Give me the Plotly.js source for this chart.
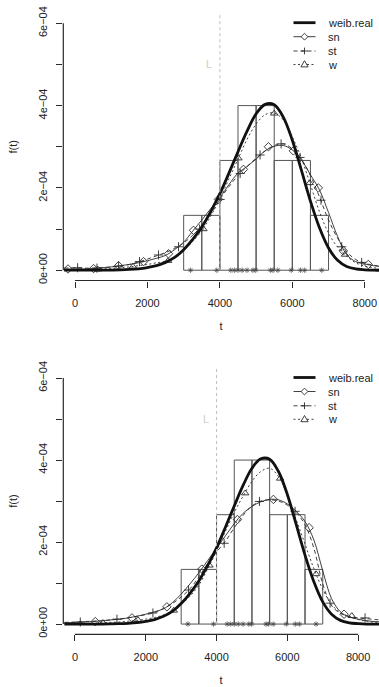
<!DOCTYPE html>
<html>
<head>
<meta charset="utf-8">
<script src="https://cdn.plot.ly/plotly-3.0.1.min.js"></script>
<style>html,body{margin:0;padding:0;background:#fff;}#chart{width:379px;height:687px;}</style>
</head>
<body>
<div id="chart"></div>
<script>
// ---------- data ----------
const legendLabels = ['weib.real', 'sn', 'st', 'w'];
const xTicks = [0, 2000, 4000, 6000, 8000];
const yTicks = [0, 1e-4, 2e-4, 3e-4, 4e-4, 5e-4, 6e-4];
const yTickText = ['0e+00', '', '2e\u221204', '', '4e\u221204', '', '6e\u221204'];

// histogram of the sample (density scale)
const binEdges = [3000, 3500, 4000, 4500, 5000, 5500, 6000, 6500, 7000];
const binDensity = [1.333e-4, 1.333e-4, 2.667e-4, 4.0e-4, 4.0e-4, 2.667e-4, 2.667e-4, 1.333e-4];

// observed times (rug, drawn as asterisks)
const sampleTimes = [3190, 3915, 4300, 4400, 4500, 4615, 4750, 4910, 4990, 5395, 5465, 5600, 5970, 6225, 6340, 6812];

const truncL = 4000;

// common grid of t for the density curves
const tGrid = [-300, 0, 250, 500, 750, 1000, 1250, 1500, 1750, 2000, 2250, 2500, 2750, 3000, 3250, 3500, 3750,
  4000, 4250, 4500, 4750, 5000, 5250, 5500, 5750, 6000, 6250, 6500, 6750, 7000, 7250, 7500, 7750, 8000, 8250, 8500, 8750];

// true Weibull density (same in both panels)
const weibReal = [0, 0, 0, 0, 0, 0.003e-4, 0.008e-4, 0.018e-4, 0.035e-4, 0.065e-4, 0.11e-4, 0.19e-4, 0.31e-4, 0.50e-4, 0.75e-4, 1.05e-4, 1.43e-4,
  1.86e-4, 2.36e-4, 2.88e-4, 3.38e-4, 3.80e-4, 4.03e-4, 4.02e-4, 3.72e-4, 3.16e-4, 2.43e-4, 1.68e-4, 1.03e-4, 0.54e-4, 0.24e-4, 0.09e-4, 0.03e-4, 0.01e-4, 0, 0, 0];

// ---- panel 1 fits ----
const sn1 = [0.02e-4, 0.03e-4, 0.03e-4, 0.04e-4, 0.06e-4, 0.08e-4, 0.11e-4, 0.14e-4, 0.18e-4, 0.23e-4, 0.29e-4, 0.36e-4, 0.50e-4, 0.68e-4, 0.95e-4, 1.22e-4, 1.50e-4,
  1.76e-4, 2.08e-4, 2.36e-4, 2.52e-4, 2.70e-4, 2.90e-4, 3.01e-4, 3.03e-4, 2.92e-4, 2.68e-4, 2.32e-4, 1.95e-4, 1.40e-4, 0.82e-4, 0.38e-4, 0.21e-4, 0.15e-4, 0.11e-4, 0.08e-4, 0.06e-4];
const st1 = [0.05e-4, 0.06e-4, 0.05e-4, 0.05e-4, 0.06e-4, 0.08e-4, 0.10e-4, 0.14e-4, 0.20e-4, 0.27e-4, 0.35e-4, 0.43e-4, 0.53e-4, 0.66e-4, 0.85e-4, 1.05e-4, 1.36e-4,
  1.72e-4, 2.03e-4, 2.30e-4, 2.52e-4, 2.72e-4, 2.90e-4, 3.03e-4, 3.07e-4, 2.95e-4, 2.70e-4, 2.30e-4, 1.78e-4, 1.22e-4, 0.78e-4, 0.45e-4, 0.26e-4, 0.17e-4, 0.12e-4, 0.09e-4, 0.07e-4];
const w1 = [0.01e-4, 0.01e-4, 0.01e-4, 0.02e-4, 0.03e-4, 0.04e-4, 0.06e-4, 0.08e-4, 0.11e-4, 0.14e-4, 0.18e-4, 0.22e-4, 0.32e-4, 0.48e-4, 0.70e-4, 0.96e-4, 1.32e-4,
  1.74e-4, 2.22e-4, 2.70e-4, 3.18e-4, 3.55e-4, 3.78e-4, 3.82e-4, 3.65e-4, 3.24e-4, 2.72e-4, 2.08e-4, 1.42e-4, 0.90e-4, 0.56e-4, 0.34e-4, 0.18e-4, 0.10e-4, 0.06e-4, 0.03e-4, 0.02e-4];
// marker points on the panel 1 curves
const sn1MarkT = [-193, 513, 1202, 1892, 2581, 3271, 3960, 4650, 5340, 6029, 6718, 7408, 8097];
const sn1MarkF = [0.03e-4, 0.04e-4, 0.11e-4, 0.21e-4, 0.40e-4, 0.97e-4, 1.72e-4, 2.45e-4, 3.00e-4, 2.90e-4, 2.00e-4, 0.47e-4, 0.14e-4];
const st1MarkT = [72, 606, 1203, 1781, 2306, 2858, 3440, 4007, 4560, 5110, 5690, 6213, 6792, 7364, 7915];
const st1MarkF = [0.06e-4, 0.05e-4, 0.10e-4, 0.21e-4, 0.37e-4, 0.57e-4, 1.00e-4, 1.72e-4, 2.35e-4, 2.80e-4, 3.07e-4, 2.74e-4, 1.70e-4, 0.57e-4, 0.19e-4];
const w1MarkT = [630, 1600, 2570, 3546, 4512, 5500, 6480, 7454];
const w1MarkF = [0.02e-4, 0.09e-4, 0.23e-4, 1.00e-4, 2.72e-4, 3.81e-4, 2.12e-4, 0.38e-4];

// ---- panel 2 fits ----
const sn2 = [0.03e-4, 0.04e-4, 0.05e-4, 0.06e-4, 0.08e-4, 0.10e-4, 0.12e-4, 0.15e-4, 0.19e-4, 0.24e-4, 0.30e-4, 0.37e-4, 0.52e-4, 0.73e-4, 0.98e-4, 1.25e-4, 1.55e-4,
  1.85e-4, 2.15e-4, 2.45e-4, 2.70e-4, 2.87e-4, 2.98e-4, 3.04e-4, 3.03e-4, 2.93e-4, 2.75e-4, 2.50e-4, 2.05e-4, 1.30e-4, 0.62e-4, 0.30e-4, 0.17e-4, 0.12e-4, 0.08e-4, 0.06e-4, 0.05e-4];
const st2 = [0.04e-4, 0.05e-4, 0.06e-4, 0.07e-4, 0.08e-4, 0.10e-4, 0.12e-4, 0.15e-4, 0.19e-4, 0.23e-4, 0.28e-4, 0.38e-4, 0.50e-4, 0.66e-4, 0.86e-4, 1.15e-4, 1.48e-4,
  1.76e-4, 2.02e-4, 2.35e-4, 2.65e-4, 2.88e-4, 3.00e-4, 3.03e-4, 3.00e-4, 2.90e-4, 2.72e-4, 2.42e-4, 1.85e-4, 0.98e-4, 0.45e-4, 0.26e-4, 0.19e-4, 0.15e-4, 0.13e-4, 0.11e-4, 0.09e-4];
const w2 = [0.01e-4, 0.01e-4, 0.01e-4, 0.02e-4, 0.03e-4, 0.04e-4, 0.05e-4, 0.07e-4, 0.09e-4, 0.12e-4, 0.16e-4, 0.22e-4, 0.32e-4, 0.48e-4, 0.68e-4, 0.95e-4, 1.35e-4,
  1.78e-4, 2.26e-4, 2.72e-4, 3.12e-4, 3.48e-4, 3.72e-4, 3.80e-4, 3.60e-4, 3.15e-4, 2.55e-4, 1.95e-4, 1.35e-4, 0.85e-4, 0.48e-4, 0.28e-4, 0.18e-4, 0.11e-4, 0.07e-4, 0.04e-4, 0.03e-4];
const sn2MarkT = [573, 1609, 2597, 3585, 4591, 5607, 6615, 7603];
const sn2MarkF = [0.06e-4, 0.15e-4, 0.42e-4, 1.34e-4, 2.55e-4, 3.04e-4, 2.35e-4, 0.24e-4];
const st2MarkT = [150, 1186, 2202, 3208, 4215, 5212, 6219, 7207, 8196];
const st2MarkF = [0.05e-4, 0.12e-4, 0.27e-4, 0.83e-4, 1.97e-4, 2.99e-4, 2.75e-4, 0.51e-4, 0.15e-4];
const w2MarkT = [790, 1780, 2790, 3800, 4808, 5796, 6812, 7820];
const w2MarkF = [0.03e-4, 0.10e-4, 0.33e-4, 1.43e-4, 3.19e-4, 3.55e-4, 1.22e-4, 0.20e-4];

// ---------- layout geometry ----------
const W = 379, H = 687;
const plotLeft = 63.3;
const panels = [
  {top: 13, bottom: 280.5, xr: [-323, 8393], xa: 'x', ya: 'y',
   sn: sn1, st: st1, w: w1, snM: [sn1MarkT, sn1MarkF], stM: [st1MarkT, st1MarkF], wM: [w1MarkT, w1MarkF]},
  {top: 367.8, bottom: 634.3, xr: [-330, 8590], xa: 'x2', ya: 'y2',
   sn: sn2, st: st2, w: w2, snM: [sn2MarkT, sn2MarkF], stM: [st2MarkT, st2MarkF], wM: [w2MarkT, w2MarkF]}
];
const yRange = [-2.5e-5, 6.25e-4];
const ink = '#2a2a2a';
const font = {family: 'Liberation Sans, Arial, sans-serif', size: 11, color: '#222'};

const styles = {
  weib: {color: '#111', width: 2.8, dash: 'solid'},
  sn: {color: ink, width: 0.9, dash: 'solid'},
  st: {color: ink, width: 0.9, dash: '4px,3px'},
  w: {color: ink, width: 0.9, dash: '2px,2.5px'}
};
const symbols = {sn: 'diamond-open', st: 'cross-thin-open', w: 'triangle-up-open'};

const traces = [];
const shapes = [];
const annotations = [];
const layout = {
  width: W, height: H, showlegend: false,
  margin: {l: 0, r: 0, t: 0, b: 0},
  paper_bgcolor: '#fff', plot_bgcolor: '#fff',
  font: font
};

const binCenters = binDensity.map((_, i) => (binEdges[i] + binEdges[i + 1]) / 2);
const binWidths = binDensity.map((_, i) => binEdges[i + 1] - binEdges[i]);

panels.forEach((p, k) => {
  const xa = p.xa, ya = p.ya;
  const xName = k === 0 ? 'xaxis' : 'xaxis2';
  const yName = k === 0 ? 'yaxis' : 'yaxis2';
  const domX = [plotLeft / W, 1];
  const domY = [1 - p.bottom / H, 1 - p.top / H];
  // map an x data value to paper fraction (for the R-style axis line)
  const toPaperX = v => domX[0] + (v - p.xr[0]) / (p.xr[1] - p.xr[0]) * (domX[1] - domX[0]);
  layout[xName] = {
    domain: domX, anchor: ya, range: p.xr,
    tickmode: 'array', tickvals: xTicks, ticktext: xTicks.map(String),
    ticks: 'outside', ticklen: 6, tickwidth: 1, tickcolor: ink,
    showline: false, showgrid: false, zeroline: false, automargin: false,
    tickfont: font, ticklabelstandoff: 6,
    title: {text: 't', font: font, standoff: 14}
  };
  layout[yName] = {
    domain: domY, anchor: xa, range: yRange,
    tickmode: 'array', tickvals: yTicks, ticktext: yTickText, tickangle: -90,
    ticks: 'outside', ticklen: 6, tickwidth: 1, tickcolor: ink,
    showline: false, showgrid: false, zeroline: false, automargin: false,
    tickfont: font, ticklabelstandoff: 5,
    title: {text: 'f(t)', font: font, standoff: 17}
  };

  // histogram
  traces.push({type: 'bar', x: binCenters, y: binDensity, width: binWidths, xaxis: xa, yaxis: ya,
    marker: {color: 'rgba(0,0,0,0)', line: {color: '#555', width: 1}}, hoverinfo: 'skip'});

  // curves
  const line = (y, st) => ({type: 'scatter', mode: 'lines', x: tGrid, y: y, xaxis: xa, yaxis: ya,
    line: {color: st.color, width: st.width, dash: st.dash, shape: 'spline', smoothing: 1}, hoverinfo: 'skip'});
  const marks = (m, sym) => ({type: 'scatter', mode: 'markers', x: m[0], y: m[1], xaxis: xa, yaxis: ya, cliponaxis: true,
    marker: {symbol: sym, size: 6.5, color: ink, line: {color: ink, width: 0.9}}, hoverinfo: 'skip'});
  traces.push(line(p.w, styles.w));
  traces.push(marks(p.wM, symbols.w));
  traces.push(line(p.st, styles.st));
  traces.push(marks(p.stM, symbols.st));
  traces.push(line(p.sn, styles.sn));
  traces.push(marks(p.snM, symbols.sn));
  traces.push(line(weibReal, styles.weib));

  // rug of observed times
  traces.push({type: 'scatter', mode: 'markers', x: sampleTimes, y: sampleTimes.map(() => 0), xaxis: xa, yaxis: ya,
    marker: {symbol: 'asterisk-open', size: 4.5, color: '#444', line: {color: '#444', width: 0.7}}, hoverinfo: 'skip'});

  // axis lines (R style: from first to last tick)
  shapes.push({type: 'line', xref: 'paper', yref: 'paper', x0: toPaperX(xTicks[0]), x1: toPaperX(xTicks[xTicks.length - 1]),
    y0: domY[0], y1: domY[0], line: {color: ink, width: 1.2}});
  shapes.push({type: 'line', xref: 'paper', yref: ya, x0: domX[0], x1: domX[0], y0: yTicks[0], y1: yTicks[yTicks.length - 1],
    line: {color: ink, width: 1.2}});
  // truncation line L
  shapes.push({type: 'line', xref: xa, yref: ya, x0: truncL, x1: truncL, y0: 0, y1: yRange[1], layer: 'above',
    line: {color: '#bdbdbd', width: 1, dash: '3px,3px'}});
  annotations.push({xref: xa, yref: ya, x: truncL - 290, y: 5.0e-4, text: 'L', showarrow: false,
    font: {family: font.family, size: 11, color: '#cfcfcf'}});

  // legend (drawn manually, R style)
  const rowOff = [9.7, 23.7, 38, 51.5];
  const keys = ['weib', 'sn', 'st', 'w'];
  keys.forEach((key, i) => {
    const py = 1 - (p.top + rowOff[i]) / H;
    const st = styles[key];
    shapes.push({type: 'line', xref: 'paper', yref: 'paper', x0: 293.5 / W, x1: 315.5 / W, y0: py, y1: py,
      line: {color: st.color, width: st.width, dash: st.dash}});
    let path = null;
    if (key === 'sn') path = 'M0,3.4L3.4,0L0,-3.4L-3.4,0Z';
    if (key === 'st') path = 'M-3.4,0L3.4,0M0,-3.4L0,3.4';
    if (key === 'w') path = 'M-3.6,-2.4L3.6,-2.4L0,3.8Z';
    if (path) shapes.push({type: 'path', xref: 'paper', yref: 'paper', xsizemode: 'pixel', ysizemode: 'pixel',
      xanchor: 304.5 / W, yanchor: py, path: path, fillcolor: '#fff', line: {color: ink, width: 0.9}});
    annotations.push({xref: 'paper', yref: 'paper', x: 325.5 / W, y: py, xanchor: 'left', yanchor: 'middle',
      text: legendLabels[i], showarrow: false, font: font});
  });
});

layout.shapes = shapes;
layout.annotations = annotations;
Plotly.newPlot('chart', traces, layout, {staticPlot: true, displayModeBar: false});
</script>
</body>
</html>
